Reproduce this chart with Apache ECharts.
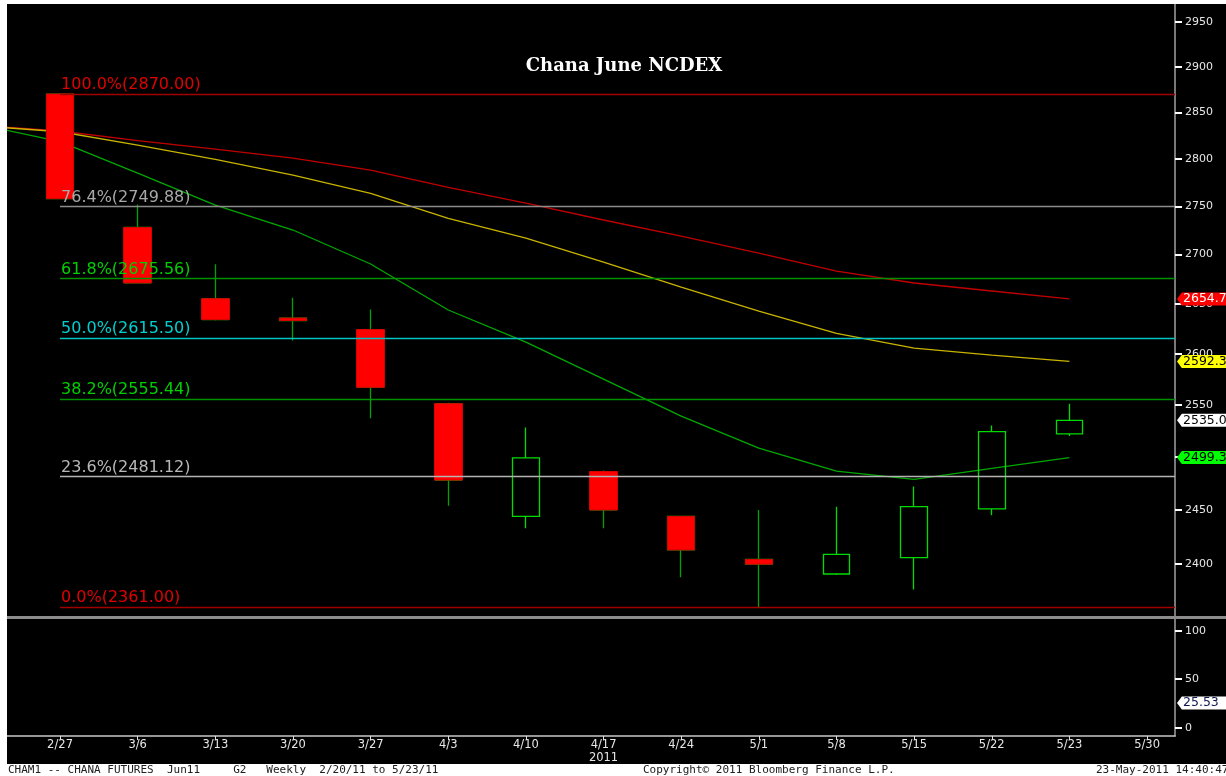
<!DOCTYPE html>
<html>
<head>
<meta charset="utf-8">
<title>Chana June NCDEX</title>
<script src="https://cdn.jsdelivr.net/npm/echarts@6/dist/echarts.min.js"></script>
<style>
  html, body { margin: 0; padding: 0; background: #fff; }
  #chart { width: 1226px; height: 776px; }
</style>
</head>
<body>
<div id="chart"></div>
<script>
// CHAM1 weekly candles (x = week index, 2/27 = 0)
const weeks = ['2/27', '3/6', '3/13', '3/20', '3/27', '4/3', '4/10', '4/17', '4/24', '5/1', '5/8', '5/15', '5/22', '5/23', '5/30'];
const opens  = [2870, 2728, 2655, 2635.5, 2624, 2551, 2444, 2486, 2444, 2404.3, 2391, 2406, 2451, 2522];
const closes = [2758, 2671, 2634, 2633, 2567, 2478, 2499, 2450, 2413, 2400, 2409, 2453, 2524, 2535];
const lows   = [2758, 2671, 2633, 2613, 2537, 2454, 2433, 2433, 2388, 2361, 2390, 2377, 2445, 2520];
const highs  = [2870, 2752, 2690, 2656, 2644, 2552, 2528, 2487, 2444, 2450, 2453, 2472, 2530, 2551];

// moving averages, first point is the 2/20 week just off the left edge
const maWeeks  = ['2/20', '2/27', '3/6', '3/13', '3/20', '3/27', '4/3', '4/10', '4/17', '4/24', '5/1', '5/8', '5/15', '5/22', '5/23'];
const maRed    = [2835.7, 2829.9, 2819.6, 2810.5, 2800.9, 2788.2, 2769.9, 2753.4, 2735.7, 2719.0, 2701.5, 2683.1, 2670.9, 2662.8, 2654.74];
const maYellow = [2835.3, 2829.1, 2814.8, 2799.6, 2782.9, 2763.6, 2737.4, 2717.0, 2692.3, 2666.8, 2642.6, 2620.2, 2605.6, 2598.7, 2592.36];
const maGreen  = [2836.3, 2818.4, 2785.0, 2751.3, 2725.3, 2690.3, 2643.6, 2611.5, 2575.0, 2539.0, 2508.3, 2486.5, 2478.6, 2489.0, 2499.33];

// fibonacci retracement levels
const fibPct    = ['100.0%', '76.4%', '61.8%', '50.0%', '38.2%', '23.6%', '0.0%'];
const fibLevels = [2870.00, 2749.88, 2675.56, 2615.50, 2555.44, 2481.12, 2361.00];
const fibLineColors = ['#a00000', '#8c8c8c', '#009000', '#00c4c4', '#009000', '#b4b4b4', '#a00000'];
const fibTextColors = ['#e00000', '#a8a8a8', '#00d000', '#00d0d0', '#00d000', '#b8b8b8', '#e00000'];

const priceTicks = [2400, 2450, 2500, 2550, 2600, 2650, 2700, 2750, 2800, 2850, 2900, 2950];
const lowerTicks = [0, 50, 100];
const lowerLast = 25.53;
const yearWeek = '4/17';
const yearLabel = '2011';

const xMin = -0.683;
const xMax = 14.36;
const fontUI = 'DejaVu Sans';

const weekIdx = weeks.map((w, i) => i);
const candleData = opens.map((o, i) => [i, o, closes[i], lows[i], highs[i]]);
// red bodies drawn separately so the wicks stay green
const bearData = candleData.filter(d => d[2] < d[1]).map(d => [d[0], d[1], d[2], d[2], d[1]]);
const maPoints = arr => arr.map((v, j) => [j - 1, v]);

function tag(value, bg, fg) {
  return {
    coord: [xMax, value],
    symbol: 'path://M0,6 L5,0 L60,0 L60,12 L5,12 Z',
    symbolSize: [58, 13],
    symbolOffset: [31, 0],
    symbolKeepAspect: false,
    itemStyle: { color: bg },
    label: {
      show: true, position: 'insideLeft', distance: 6, formatter: value.toFixed(2),
      color: fg, fontSize: 12.5, fontFamily: fontUI
    }
  };
}

function maSeries(name, arr, color, tagBg, tagFg) {
  return {
    name, type: 'line', xAxisIndex: 0, yAxisIndex: 0,
    data: maPoints(arr), showSymbol: false, clip: true,
    lineStyle: { color, width: 1.3 },
    markPoint: { silent: true, z: 12, data: [tag(arr[arr.length - 1], tagBg, tagFg)] },
    z: 3
  };
}

const chart = echarts.init(document.getElementById('chart'));

chart.setOption({
  backgroundColor: '#000',
  animation: false,
  grid: [
    { left: 7, top: 4, width: 1168, height: 612 },
    { left: 7, top: 619, width: 1168, height: 117 }
  ],
  xAxis: [
    { type: 'value', gridIndex: 0, min: xMin, max: xMax, show: false },
    {
      type: 'value', gridIndex: 1, min: xMin, max: xMax, position: 'bottom',
      axisLine: { show: true, onZero: false, lineStyle: { color: '#c8c8c8', width: 1.5 } },
      axisTick: { show: true, customValues: weekIdx, length: 4, lineStyle: { color: '#e0e0e0' } },
      axisLabel: {
        customValues: weekIdx, color: '#e6e6e6', fontSize: 11.5, fontFamily: fontUI,
        margin: 3, lineHeight: 13,
        formatter: v => {
          const w = weeks[Math.round(v)];
          return w === yearWeek ? w + '\n' + yearLabel : w;
        }
      },
      splitLine: { show: false }
    }
  ],
  yAxis: [
    {
      type: 'log', logBase: 10, gridIndex: 0, position: 'right', min: 2353.1, max: 2970,
      axisLine: { show: true, onZero: false, lineStyle: { color: '#a0a0a0', width: 1.5 } },
      axisTick: { show: true, customValues: priceTicks, length: 7, lineStyle: { color: '#ffffff', width: 2 } },
      axisLabel: {
        customValues: priceTicks, color: '#e6e6e6', fontSize: 11, fontFamily: fontUI, margin: 10,
        formatter: v => String(Math.round(v))
      },
      splitLine: { show: false }
    },
    {
      type: 'value', gridIndex: 1, position: 'right', min: -8.56, max: 112.06,
      axisLine: { show: true, onZero: false, lineStyle: { color: '#a0a0a0', width: 1.5 } },
      axisTick: { show: true, customValues: lowerTicks, length: 7, lineStyle: { color: '#ffffff', width: 2 } },
      axisLabel: { customValues: lowerTicks, color: '#e6e6e6', fontSize: 11, fontFamily: fontUI, margin: 10 },
      splitLine: { show: false }
    }
  ],
  series: [
    maSeries('MA red', maRed, '#c00000', '#ff0000', '#ffffff'),
    maSeries('MA yellow', maYellow, '#c8b400', '#ffff00', '#000000'),
    maSeries('MA green', maGreen, '#00a800', '#00ff00', '#000000'),
    {
      name: 'wicks', type: 'candlestick', xAxisIndex: 0, yAxisIndex: 0,
      data: candleData, barWidth: 27,
      itemStyle: {
        color: 'transparent', color0: 'transparent',
        borderColor: '#00dc00', borderColor0: '#00a400', borderWidth: 1.3
      },
      markPoint: { silent: true, z: 12, data: [tag(closes[closes.length - 1], '#ffffff', '#000000')] },
      z: 4
    },
    {
      name: 'bodies', type: 'candlestick', xAxisIndex: 0, yAxisIndex: 0,
      data: bearData, barWidth: 28,
      itemStyle: { color: '#ff0000', color0: '#ff0000', borderColor: '#d80000', borderColor0: '#d80000', borderWidth: 1 },
      z: 5
    },
    {
      // fibonacci levels, drawn above the candles like the reference
      name: 'fib', type: 'line', xAxisIndex: 0, yAxisIndex: 0,
      data: [], showSymbol: false, z: 6,
      markLine: {
        silent: true, symbol: 'none', z: 10,
        data: fibLevels.map((v, k) => [
          {
            coord: [0, v],
            lineStyle: { color: fibLineColors[k], width: 1.3, type: 'solid' },
            label: {
              show: true, position: 'insideStartTop', distance: [1, 1],
              formatter: fibPct[k] + '(' + v.toFixed(2) + ')',
              color: fibTextColors[k], fontSize: 16, fontFamily: fontUI
            }
          },
          { coord: [xMax, v] }
        ])
      }
    },
    {
      name: 'lower', type: 'line', xAxisIndex: 1, yAxisIndex: 1,
      data: [], showSymbol: false,
      markPoint: { silent: true, z: 12, data: [tag(lowerLast, '#ffffff', '#101850')] }
    }
  ],
  graphic: [
    { type: 'rect', shape: { x: 0, y: 0, width: 7, height: 776 }, style: { fill: '#ffffff' }, z: 10 },
    { type: 'rect', shape: { x: 0, y: 0, width: 1226, height: 4 }, style: { fill: '#ffffff' }, z: 10 },
    { type: 'rect', shape: { x: 0, y: 764, width: 1226, height: 12 }, style: { fill: '#ffffff' }, z: 10 },
    { type: 'line', shape: { x1: 7, y1: 617.5, x2: 1226, y2: 617.5 }, style: { stroke: '#8c8c8c', lineWidth: 3 }, z: 10 },
    {
      type: 'text', x: 624, y: 66, z: 11,
      style: {
        text: 'Chana June NCDEX', fill: '#ffffff', align: 'center', verticalAlign: 'middle',
        font: 'bold 18px "DejaVu Serif"'
      }
    },
    {
      type: 'text', x: 8, y: 770, z: 11,
      style: { text: 'CHAM1 -- CHANA FUTURES  Jun11     G2   Weekly  2/20/11 to 5/23/11', fill: '#202020', verticalAlign: 'middle', font: '11px "DejaVu Sans Mono"' }
    },
    {
      type: 'text', x: 643, y: 770, z: 11,
      style: { text: 'Copyright\u00a9 2011 Bloomberg Finance L.P.', fill: '#202020', verticalAlign: 'middle', font: '11px "DejaVu Sans Mono"' }
    },
    {
      type: 'text', x: 1096, y: 770, z: 11,
      style: { text: '23-May-2011 14:40:47', fill: '#202020', verticalAlign: 'middle', font: '11px "DejaVu Sans Mono"' }
    }
  ]
});

window.addEventListener('resize', () => chart.resize());
</script>
</body>
</html>
